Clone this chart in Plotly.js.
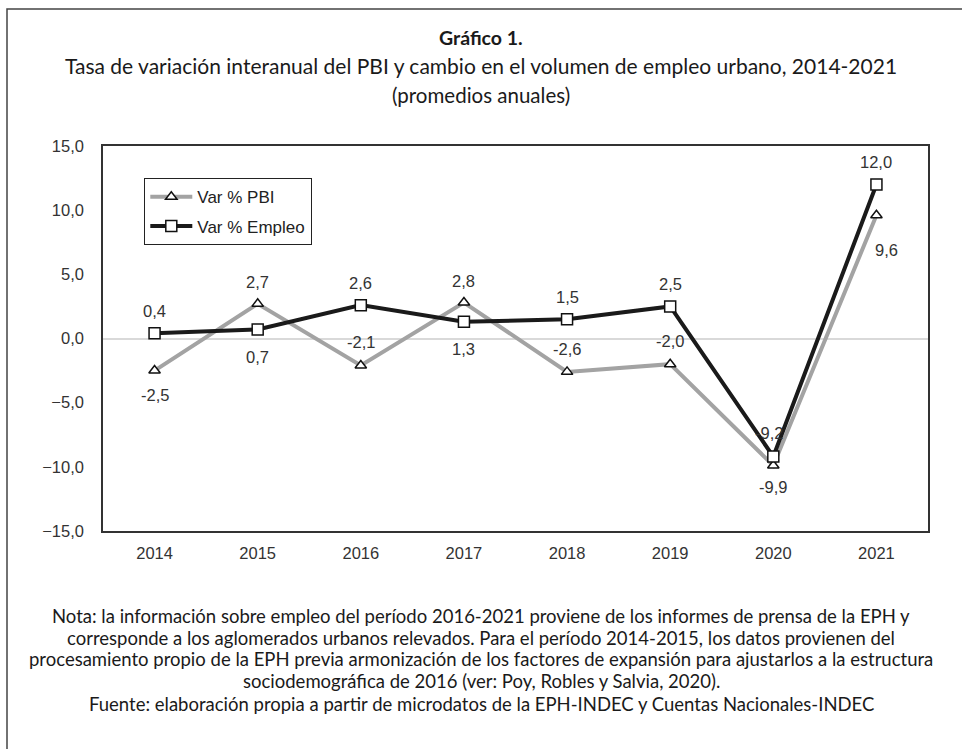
<!DOCTYPE html>
<html>
<head>
<meta charset="utf-8">
<script src="https://cdn.plot.ly/plotly-3.0.1.min.js"></script>
<style>
html,body{margin:0;padding:0;background:#fff;}
#chart{width:962px;height:749px;}
</style>
</head>
<body>
<div id="chart"></div>
<script>
var years = ['2014','2015','2016','2017','2018','2019','2020','2021'];
var pbi = [-2.5, 2.7, -2.1, 2.8, -2.6, -2.0, -9.9, 9.6];
var empleo = [0.4, 0.7, 2.6, 1.3, 1.5, 2.5, -9.2, 12.0];
var seriesNames = ['Var % PBI', 'Var % Empleo'];
var yTicks = [-15, -10, -5, 0, 5, 10, 15];

// label placement (pixel offsets from each marker), not data
var pbiLabelDy = [-24, 22, 23, 22, 23, 23, -21, -35];
var pbiLabelDx = [0, 0, 0, 0, 0, 0, 0, 10];
var empLabelDy = [22, -27, 22, -27, 22, 22, 24, 23];
var empLabelDx = [0, 0, 0, 0, 0, 0, -4, 0];

function fmt(v){ return v.toFixed(1).replace('.', ','); }

var L = 103, R = 928, T = 146, B = 531, W = 962, H = 749;
function px(x){ return (x - L) / (R - L); }
function py(y){ return (B - y) / (B - T); }

var arial = 'Liberation Sans, Arial, sans-serif';
var labelFont = {family: arial, size: 16.5, color: '#333333'};

var tracePbi = {
  x: years, y: pbi, name: seriesNames[0], type: 'scatter', mode: 'lines+markers',
  legendgroup: 'a',
  line: {color: '#a3a3a3', width: 4},
  marker: {symbol: 'triangle-up', size: 10, color: '#ffffff', line: {color: '#111111', width: 1.5}},
  cliponaxis: false, hoverinfo: 'x+y'
};
var traceEmp = {
  x: years, y: empleo, name: seriesNames[1], type: 'scatter', mode: 'lines+markers',
  legendgroup: 'b',
  line: {color: '#1a1a1a', width: 4},
  marker: {symbol: 'square', size: 11, color: '#ffffff', line: {color: '#111111', width: 1.5}},
  cliponaxis: false, hoverinfo: 'x+y'
};

var textFont = 'Lato, "Open Sans", sans-serif';
var titleLines = [
  {t: '<b>Gráfico 1.</b>', y: 38, s: 19.5},
  {t: 'Tasa de variación interanual del PBI y cambio en el volumen de empleo urbano, 2014-2021', y: 66, s: 21},
  {t: '(promedios anuales)', y: 95, s: 20.5}
];
var noteLines = [
  {t: 'Nota: la información sobre empleo del período 2016-2021 proviene de los informes de prensa de la EPH y', y: 616},
  {t: 'corresponde a los aglomerados urbanos relevados. Para el período 2014-2015, los datos provienen del', y: 638},
  {t: 'procesamiento propio de la EPH previa armonización de los factores de expansión para ajustarlos a la estructura', y: 659},
  {t: 'sociodemográfica de 2016 (ver: Poy, Robles y Salvia, 2020).', y: 681},
  {t: 'Fuente: elaboración propia a partir de microdatos de la EPH-INDEC y Cuentas Nacionales-INDEC', y: 704}
];
var annotations = [];
titleLines.forEach(function(l){
  annotations.push({xref:'paper', yref:'paper', x: px(481), y: py(l.y), xanchor:'center', yanchor:'middle',
    text: l.t, showarrow:false, font:{family:textFont, size:l.s, color:'#1a1a1a'}});
});
noteLines.forEach(function(l){
  annotations.push({xref:'paper', yref:'paper', x: px(481), y: py(l.y), xanchor:'center', yanchor:'middle',
    text: l.t, showarrow:false, font:{family:textFont, size:18.5, color:'#1a1a1a'}});
});
// data labels, positioned through the axes from the data arrays (category index)
years.forEach(function(yr, i){
  annotations.push({xref:'x', yref:'y', x: i, y: pbi[i], text: fmt(pbi[i]), showarrow:false,
    xanchor:'center', yanchor:'middle', xshift: pbiLabelDx[i], yshift: pbiLabelDy[i], font: labelFont});
  annotations.push({xref:'x', yref:'y', x: i, y: empleo[i], text: fmt(empleo[i]), showarrow:false,
    xanchor:'center', yanchor:'middle', xshift: empLabelDx[i], yshift: empLabelDy[i], font: labelFont});
});

var shapes = [
  {type:'path', xref:'paper', yref:'paper',
   path: 'M ' + px(7) + ' ' + py(H + 5) + ' L ' + px(7) + ' ' + py(9) + ' L ' + px(W + 5) + ' ' + py(9),
   line:{color:'#444444', width:1.5}}
];

var layout = {
  width: W, height: H,
  margin: {l: L, r: W - R, t: T, b: H - B, pad: 0},
  paper_bgcolor: '#ffffff', plot_bgcolor: '#ffffff',
  separators: ',.',
  showlegend: true,
  legend: {x: px(144), y: py(178), xanchor:'left', yanchor:'top', bgcolor:'#ffffff',
    bordercolor:'#222222', borderwidth:1.3, font:{family:arial, size:17, color:'#222222'},
    tracegroupgap: 4, itemwidth: 42, traceorder: 'grouped'},
  xaxis: {type:'category', range:[-0.5, 7.5], showgrid:false, zeroline:false,
    showline:true, mirror:true, linecolor:'#333333', linewidth:1.5, ticks:'',
    tickfont:{family:arial, size:16.5, color:'#333333'}, ticklabelstandoff: 6},
  yaxis: {range:[-15, 15], tickvals: yTicks, tickformat: '.1f', showgrid:false,
    zeroline:true, zerolinecolor:'#d9d9d9', zerolinewidth:1.5,
    showline:true, mirror:true, linecolor:'#333333', linewidth:1.5, ticks:'',
    tickfont:{family:arial, size:16.5, color:'#333333'}, ticklabelstandoff: 14},
  annotations: annotations,
  shapes: shapes
};

Plotly.newPlot('chart', [tracePbi, traceEmp], layout, {displayModeBar:false, responsive:false});
</script>
</body>
</html>
